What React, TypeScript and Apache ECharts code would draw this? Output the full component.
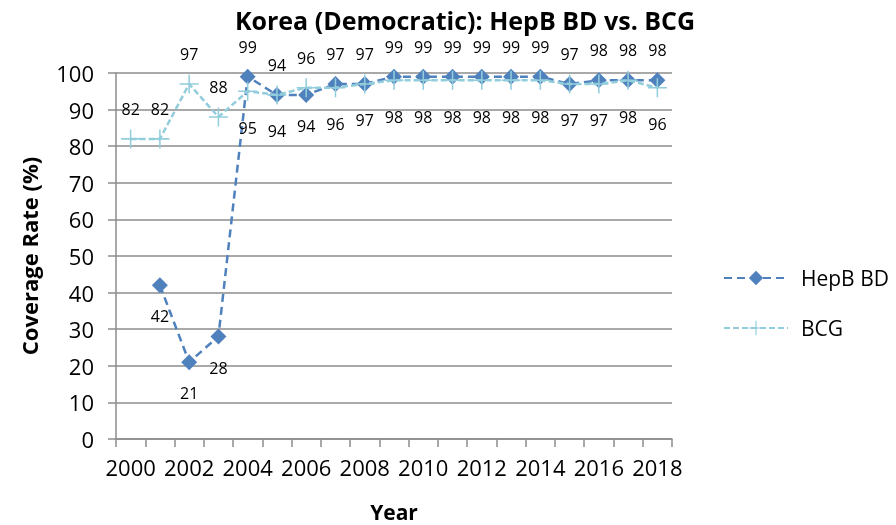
import React, { useEffect, useRef } from "react";
import * as echarts from "echarts";

const years = ["2000", "2001", "2002", "2003", "2004", "2005", "2006", "2007", "2008", "2009", "2010", "2011", "2012", "2013", "2014", "2015", "2016", "2017", "2018"];
const hepB: (number | null)[] = [null, 42, 21, 28, 99, 94, 94, 97, 97, 99, 99, 99, 99, 99, 99, 97, 98, 98, 98];
const bcg: number[] = [82, 82, 97, 88, 95, 94, 96, 96, 97, 98, 98, 98, 98, 98, 98, 97, 97, 98, 96];
const yTicks = { min: 0, max: 100, interval: 10 };
const titleText = "Korea (Democratic): HepB BD vs. BCG";

const FONT = "'Open Sans', 'Noto Sans', sans-serif";
const C_HEP = "#4F81BD";
const C_BCG = "#92CDDC";
const GRAY = "#8C8C8C";
const PLUS = "path://M0,9.2 L20,9.2 L20,10.8 L0,10.8 Z M9.2,0 L10.8,0 L10.8,20 L9.2,20 Z";

export default function App() {
  const ref = useRef<HTMLDivElement>(null);
  useEffect(() => {
    if (!ref.current) return;
    const chart = echarts.init(ref.current, undefined, { renderer: "svg" });
    const hepData = hepB.map((v, i) => {
      const top = v !== null && v >= bcg[i];
      return { value: v, label: { position: top ? "top" : "bottom", distance: top ? 14 : 15 } };
    });
    const bcgData = bcg.map((v, i) => {
      const h = hepB[i];
      const top = h === null || v > h;
      return { value: v, label: { position: top ? "top" : "bottom", distance: top ? 12 : 19 } };
    });
    chart.setOption({
      animation: false,
      textStyle: { fontFamily: FONT },
      graphic: [
        {
          type: "text",
          x: 465,
          y: 20,
          style: {
            text: titleText,
            font: `bold 25px ${FONT}`,
            fill: "#000",
            textAlign: "center",
            textVerticalAlign: "middle",
          },
        },
      ],
      grid: { left: 116, right: 224, top: 73, bottom: 86, outerBoundsMode: "none", containLabel: false },
      legend: {
        orient: "vertical",
        left: 718,
        top: 261,
        itemWidth: 64,
        itemHeight: 18,
        itemGap: 26,
        textStyle: { fontFamily: FONT, fontSize: 21, color: "#000", lineHeight: 24, padding: [0, 0, 0, 8] },
        data: ["HepB BD", "BCG"],
      },
      xAxis: {
        type: "category",
        data: years,
        boundaryGap: true,
        name: "Year",
        nameLocation: "middle",
        nameGap: 62,
        nameTextStyle: { fontFamily: FONT, fontSize: 21, fontWeight: "bold", color: "#000" },
        axisLine: { show: true, lineStyle: { color: GRAY, width: 1.5 } },
        axisTick: { show: true, interval: 0, alignWithLabel: false, length: 8, lineStyle: { color: GRAY, width: 1.5 } },
        axisLabel: { interval: 1, fontFamily: FONT, fontSize: 22, color: "#000", margin: 17 },
        splitLine: { show: false },
      },
      yAxis: {
        type: "value",
        min: yTicks.min,
        max: yTicks.max,
        interval: yTicks.interval,
        name: "Coverage Rate (%)",
        nameLocation: "middle",
        nameGap: 76,
        nameTextStyle: { fontFamily: FONT, fontSize: 22, fontWeight: "bold", color: "#000" },
        axisLine: { show: true, lineStyle: { color: GRAY, width: 1.5 } },
        axisTick: { show: true, length: 8, lineStyle: { color: GRAY, width: 1.5 } },
        axisLabel: { fontFamily: FONT, fontSize: 22, color: "#000", margin: 22 },
        splitLine: { show: true, lineStyle: { color: GRAY, width: 1.5 } },
      },
      series: [
        {
          name: "HepB BD",
          type: "line",
          data: hepData,
          symbol: "diamond",
          symbolSize: 16,
          showAllSymbol: true,
          z: 3,
          itemStyle: { color: C_HEP },
          lineStyle: { color: C_HEP, width: 2.5, type: [8, 5] },
          label: { show: true, fontFamily: FONT, fontSize: 16, color: "#000" },
          labelLayout: { hideOverlap: false },
        },
        {
          name: "BCG",
          type: "line",
          data: bcgData,
          symbol: PLUS,
          symbolSize: 19,
          showAllSymbol: true,
          z: 4,
          itemStyle: { color: C_BCG },
          lineStyle: { color: C_BCG, width: 2.5, type: [6, 3] },
          label: { show: true, fontFamily: FONT, fontSize: 16, color: "#000" },
          labelLayout: { hideOverlap: false },
        },
      ],
    });
    return () => chart.dispose();
  }, []);
  return <div ref={ref} style={{ position: "fixed", left: 0, top: 0, width: 896, height: 525 }} />;
}
